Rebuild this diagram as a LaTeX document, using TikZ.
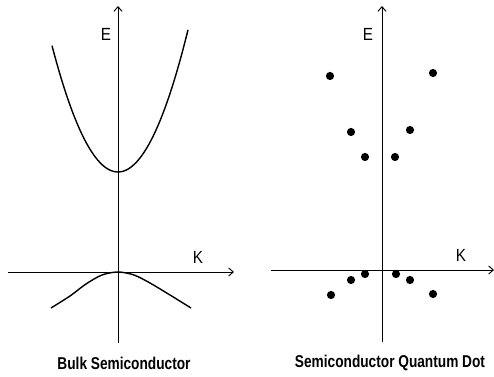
\documentclass[tikz,border=0pt]{standalone}
\usepackage{fontspec}
\setmainfont{Liberation Sans}
\newfontfamily\narrowfont[FakeStretch=0.87]{Liberation Sans}
\newfontfamily\capfont[FakeStretch=0.8]{Liberation Sans Bold}
\usepackage{tikz}
\usetikzlibrary{arrows.meta}

\begin{document}
\begin{tikzpicture}[
    x=0.03cm, y=-0.03cm,
    >={Straight Barb[length=4pt,width=7pt]},
    % Styles for the parts
    axis/.style={->, line width=0.8pt, black},
    band/.style={line width=1.2pt, black},
    axlabel/.style={inner sep=0pt, font=\narrowfont\fontsize{15}{17}\selectfont},
    caption/.style={inner sep=0pt, font=\capfont\fontsize{14.6}{17}\selectfont},
    qdot/.style={circle, fill=black, inner sep=0pt, minimum width=6pt, minimum height=7pt}
]
    \useasboundingbox (0,0) rectangle (494,377);

    % =========================================================================
    % 1. BULK SEMICONDUCTOR (left)
    % =========================================================================
    \coordinate (e1bot) at (118,343);
    \coordinate (e1top) at (118,6);
    \coordinate (k1left) at (8,272);
    \coordinate (k1right) at (234,272);
    \draw[axis] (e1bot) -- (e1top);
    \draw[axis] (k1left) -- (k1right);
    \node[axlabel] (e1) at (106,34) {E};
    \node[axlabel] (k1) at (198,257) {K};

    % Conduction band
    \draw[band] plot[domain=-66:70, samples=60] ({118+\x},{172-0.029*\x*\x});
    % Valence band
    \draw[band] plot[smooth] coordinates {(51,308) (70,296) (86,284) (102,275)
        (118,272) (134,275) (150,283) (170,295) (191,308)};

    \node[caption] (cap1) at (124,363) {Bulk Semiconductor};

    % =========================================================================
    % 2. SEMICONDUCTOR QUANTUM DOT (right)
    % =========================================================================
    \coordinate (e2bot) at (382,342);
    \coordinate (e2top) at (382,6);
    \coordinate (k2left) at (271,270);
    \coordinate (k2right) at (494,270);
    \draw[axis] (e2bot) -- (e2top);
    \draw[axis] (k2left) -- (k2right);
    \node[axlabel] (e2) at (368,34) {E};
    \node[axlabel] (k2) at (461,255) {K};

    % Discrete levels, upper
    \node[qdot] (c1) at (330,76) {};
    \node[qdot] (c2) at (433,73) {};
    \node[qdot] (c3) at (351,132) {};
    \node[qdot] (c4) at (410,130) {};
    \node[qdot] (c5) at (365,157) {};
    \node[qdot] (c6) at (395,157) {};
    % Discrete levels, lower
    \node[qdot] (v1) at (365,274) {};
    \node[qdot] (v2) at (396,274) {};
    \node[qdot] (v3) at (351,280) {};
    \node[qdot] (v4) at (410,280) {};
    \node[qdot] (v5) at (331,295) {};
    \node[qdot] (v6) at (433,294) {};

    \node[caption] (cap2) at (390,363) {Semiconductor Quantum Dot};

\end{tikzpicture}
\end{document}
